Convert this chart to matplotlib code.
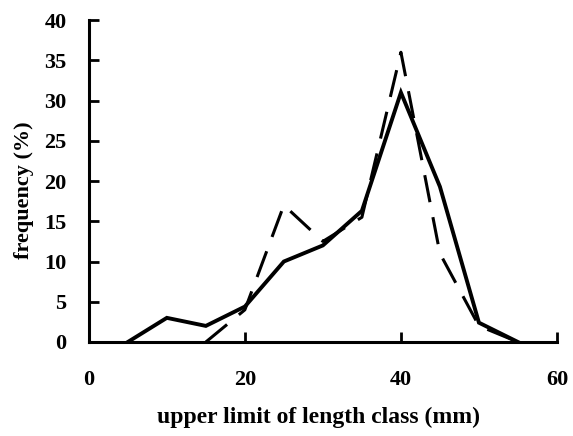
import matplotlib
matplotlib.use("Agg")
import matplotlib.pyplot as plt

# Length-class upper limits (mm) and frequency (%) for the two samples
length_solid = [5, 10, 15, 20, 25, 30, 35, 40, 45, 50, 55]
freq_solid = [0, 3, 2, 4.4, 10, 12, 16.3, 31, 19.3, 2.4, 0]

length_dashed = [15, 20, 25, 30, 35, 40, 45, 50, 55]
freq_dashed = [0, 4, 17, 12.5, 15.5, 36, 11, 2, 0]

x_ticks = [0, 20, 40, 60]
y_ticks = [0, 5, 10, 15, 20, 25, 30, 35, 40]

plt.rcParams["font.family"] = ["Liberation Serif", "DejaVu Serif"]
plt.rcParams["font.weight"] = "bold"

fig = plt.figure(figsize=(5.73, 4.36), dpi=100)
ax = fig.add_axes([0.155, 0.2156, 0.817, 0.7384])

ax.plot(length_solid, freq_solid, color="black", lw=2.8, solid_joinstyle="miter")
ax.plot(length_dashed, freq_dashed, color="black", lw=2.2, dashes=(9, 5))

ax.set_xlim(0, 60)
ax.set_ylim(0, 40)
ax.set_xticks(x_ticks)
ax.set_yticks(y_ticks)

for side in ("top", "right"):
    ax.spines[side].set_visible(False)
for side in ("left", "bottom"):
    ax.spines[side].set_linewidth(2.2)

ax.tick_params(axis="x", direction="in", length=7, width=2, labelsize=16, pad=20)
ax.tick_params(axis="y", direction="in", length=7, width=2, labelsize=16, pad=16)
for lbl in ax.get_xticklabels() + ax.get_yticklabels():
    lbl.set_fontweight("bold")

ax.set_xlabel("upper limit of length class (mm)", fontsize=17, fontweight="bold", labelpad=11)
ax.xaxis.set_label_coords(0.49, -0.2, transform=ax.transAxes)
ax.xaxis.label.set_verticalalignment("top")
ax.set_ylabel("frequency (%)", fontsize=16, fontweight="bold")
ax.yaxis.set_label_coords(-0.118, 0.47)

fig.savefig("out.png", dpi=100)
